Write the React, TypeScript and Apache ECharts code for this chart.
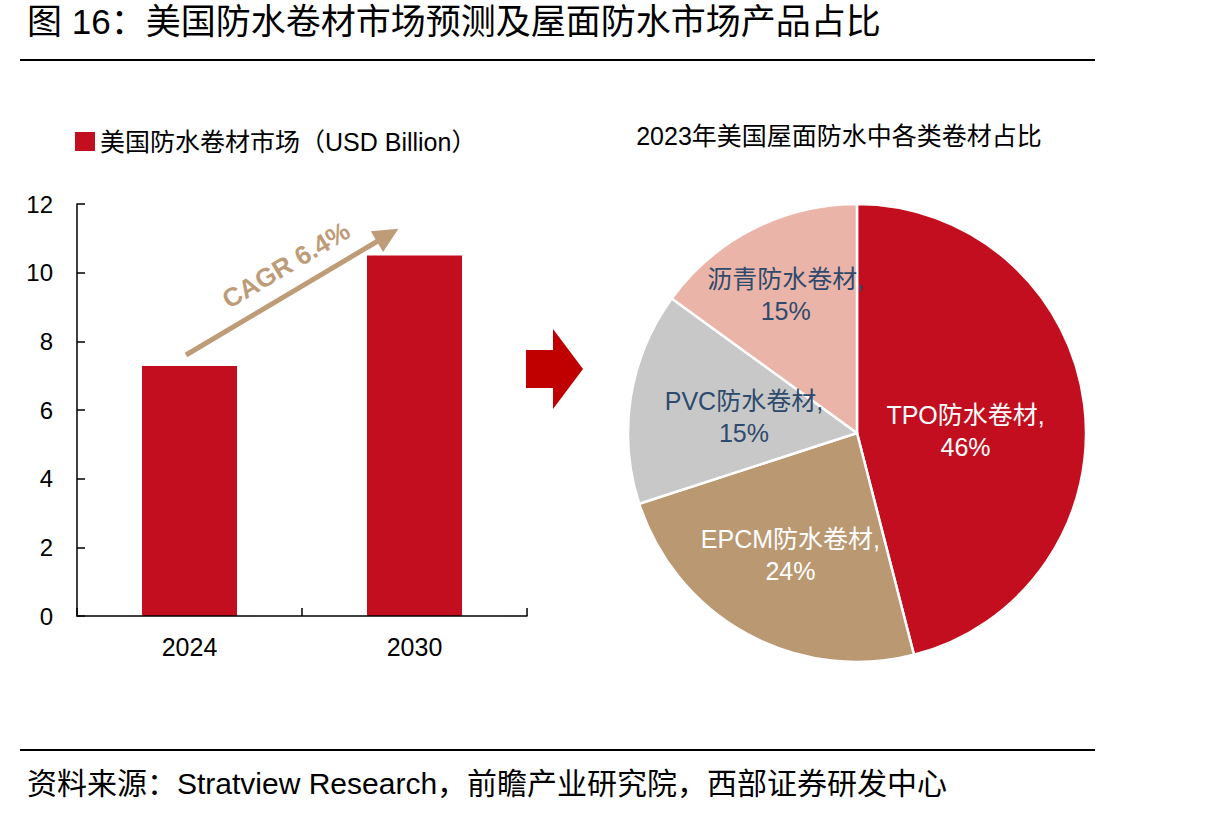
import React, { useEffect, useRef } from "react";
import * as echarts from "echarts";

// Market size forecast (USD Billion)
const years = ["2024", "2030"];
const marketSize = [7.28, 10.5];
const seriesName = "美国防水卷材市场（USD Billion）";
const cagrText = "CAGR 6.4%";

// 2023 share of roofing membranes
const shareNames = ["TPO防水卷材", "EPCM防水卷材", "PVC防水卷材", "沥青防水卷材"];
const shareValues = [46, 24, 15, 15];
const shareColors = ["#C20E1E", "#BA9872", "#C8C8C8", "#EAB4A9"];
const shareLabelColors = ["#FFFFFF", "#FFFFFF", "#2E4A6C", "#2E4A6C"];

const titleText = "图 16：美国防水卷材市场预测及屋面防水市场产品占比";
const pieTitle = "2023年美国屋面防水中各类卷材占比";
const sourceText = "资料来源：Stratview Research，前瞻产业研究院，西部证券研发中心";

const FONT = "'Liberation Sans', 'Noto Sans CJK SC', sans-serif";

export default function App() {
  const ref = useRef<HTMLDivElement>(null);

  useEffect(() => {
    if (!ref.current) return;
    const chart = echarts.init(ref.current, null, { renderer: "svg" });

    // small nudges so labels sit where they read best inside each slice
    const labelNudge = [
      [-8, 13],
      [-10, 19],
      [3, 2],
      [-18, -33],
    ];

    const arrowAngle = Math.atan2(126, 212);

    chart.setOption({
      animation: false,
      backgroundColor: "#FFFFFF",
      textStyle: { fontFamily: FONT },
      legend: {
        show: true,
        left: 70,
        top: 124,
        icon: "rect",
        itemWidth: 20,
        itemHeight: 19,
        itemGap: 10,
        data: [seriesName],
        textStyle: { fontSize: 25, color: "#000", fontFamily: FONT },
      },
      grid: { left: 77, right: 688, top: 204, bottom: 202, containLabel: false },
      xAxis: {
        type: "category",
        data: years,
        boundaryGap: true,
        axisLine: { show: true, lineStyle: { color: "#000", width: 1.5 } },
        axisTick: { show: true, inside: true, length: 8, lineStyle: { color: "#000", width: 1.5 } },
        axisLabel: { fontSize: 25, color: "#000", margin: 18, fontFamily: FONT },
        z: 5,
      },
      yAxis: {
        type: "value",
        min: 0,
        max: 12,
        interval: 2,
        splitLine: { show: false },
        axisLine: { show: true, lineStyle: { color: "#000", width: 1.5 } },
        axisTick: { show: true, inside: true, length: 8, lineStyle: { color: "#000", width: 1.5 } },
        axisLabel: { fontSize: 24, color: "#000", margin: 24, fontFamily: FONT },
      },
      series: [
        {
          name: seriesName,
          type: "bar",
          data: marketSize,
          barWidth: 95,
          itemStyle: { color: "#C20E1E" },
          z: 2,
        },
        {
          type: "pie",
          center: [857, 433],
          radius: [0, 229],
          startAngle: 90,
          clockwise: true,
          data: shareNames.map((n, i) => ({
            name: n,
            value: shareValues[i],
            itemStyle: { color: shareColors[i] },
            label: { color: shareLabelColors[i] },
          })),
          itemStyle: { borderColor: "#FFFFFF", borderWidth: 2.5 },
          label: {
            show: true,
            position: "inside",
            formatter: (p: any) => `${p.name},\n${p.value}%`,
            fontSize: 25,
            lineHeight: 32,
            fontFamily: FONT,
          },
          labelLine: { show: false },
          labelLayout: (p: any) => ({ dx: labelNudge[p.dataIndex][0], dy: labelNudge[p.dataIndex][1] }),
          emphasis: { disabled: true },
        },
      ],
      graphic: [
        {
          type: "text",
          left: 27,
          top: 4,
          style: { text: titleText, fontSize: 35, fill: "#000", fontFamily: FONT },
        },
        {
          type: "line",
          shape: { x1: 20, y1: 60, x2: 1095, y2: 60 },
          style: { stroke: "#000", lineWidth: 2 },
        },
        {
          type: "line",
          shape: { x1: 20, y1: 750, x2: 1095, y2: 750 },
          style: { stroke: "#000", lineWidth: 2 },
        },
        {
          type: "text",
          left: 27,
          top: 768,
          style: { text: sourceText, fontSize: 30, fill: "#000", fontFamily: FONT },
        },
        {
          type: "text",
          x: 839,
          y: 136,
          style: {
            text: pieTitle,
            fontSize: 25,
            fill: "#000",
            align: "center",
            verticalAlign: "middle",
            fontFamily: FONT,
          },
        },
        // growth arrow over the bars
        {
          type: "group",
          x: 186,
          y: 355,
          rotation: arrowAngle,
          children: [
            {
              type: "line",
              shape: { x1: 0, y1: 0, x2: 226, y2: 0 },
              style: { stroke: "#BE9C78", lineWidth: 5 },
            },
            {
              type: "polygon",
              shape: { points: [[222, -12], [247, 0], [222, 12]] },
              style: { fill: "#BE9C78" },
            },
          ],
        },
        {
          type: "text",
          x: 286,
          y: 265,
          rotation: arrowAngle,
          style: {
            text: cagrText,
            fontSize: 26,
            fontWeight: "bold",
            fill: "#BE9C78",
            align: "center",
            verticalAlign: "middle",
            fontFamily: FONT,
          },
        },
        // block arrow between the two panels
        {
          type: "polygon",
          shape: {
            points: [
              [526, 350],
              [553, 350],
              [553, 329],
              [583, 369],
              [553, 409],
              [553, 388],
              [526, 388],
            ],
          },
          style: { fill: "#C00000" },
        },
      ],
    });

    return () => chart.dispose();
  }, []);

  return (
    <div
      ref={ref}
      style={{ position: "fixed", left: 0, top: 0, width: 1215, height: 818, background: "#fff" }}
    />
  );
}
